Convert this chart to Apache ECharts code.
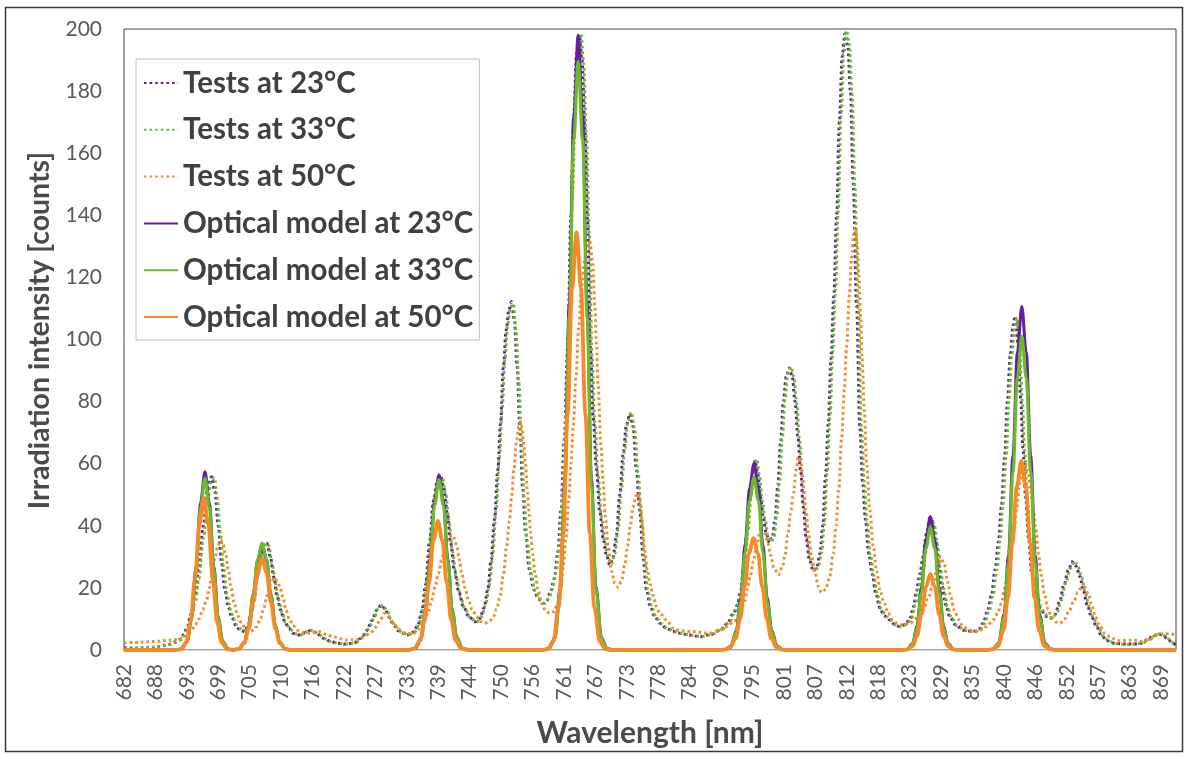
<!DOCTYPE html>
<html>
<head>
<meta charset="utf-8">
<script src="https://cdn.jsdelivr.net/npm/echarts@6/dist/echarts.min.js"></script>
<style>
  html, body { margin: 0; padding: 0; background: #ffffff; }
  #chart { width: 1186px; height: 759px; }
</style>
</head>
<body>
<div id="chart"></div>
<script>
// Wavelength tick labels shown under the x axis (evenly spaced)
const tickLabels = [682, 688, 693, 699, 705, 710, 716, 722, 727, 733, 739, 744, 750, 756, 761, 767,
  773, 778, 784, 790, 795, 801, 807, 812, 818, 823, 829, 835, 840, 846, 852, 857, 863, 869];

const seriesNames = ['Tests at 23°C', 'Tests at 33°C', 'Tests at 50°C',
  'Optical model at 23°C', 'Optical model at 33°C', 'Optical model at 50°C'];

// Measured spectra: [wavelength nm, counts]
const test23 = [[682,0.8],[684,0.6],[686.5,0.7],[688.5,1.1],[690,1.8],[691.2,2.6],[692.1,3.4],[692.8,5],[693.4,7.5],[694.1,11.5],[694.8,17],[695.5,26],[696.3,40],[697.1,52.5],[697.8,55.8],[698.4,51],[699,40],[699.6,28],[700.2,19.3],[700.8,14],[701.4,10.7],[702.2,7.8],[702.9,6.4],[703.8,5.9],[704.4,8.2],[705,12.5],[705.9,22.5],[706.6,29.5],[707.3,33.6],[707.8,34.3],[708.4,30],[709,23.5],[709.6,17.5],[710.2,13],[710.9,9.5],[711.7,7],[712.6,5.3],[713.7,4.8],[714.7,5.6],[715.7,6.3],[716.6,5.6],[717.9,3.8],[719.2,2.8],[720.5,2.2],[722,1.9],[723.5,2.3],[724.8,3.8],[725.8,6.3],[726.7,9.5],[727.6,12.9],[728.4,14.5],[729.1,13.2],[729.8,10.6],[730.6,8],[731.5,6.2],[733,4.8],[734.2,5.8],[735,8],[735.7,12.5],[736.4,21],[737.1,35],[737.8,48],[738.5,54.5],[739.1,55.8],[739.7,52],[740.3,44],[740.9,34.5],[741.6,25.5],[742.4,18.5],[743.2,14],[744.2,10.7],[745.3,9.1],[746.2,10.2],[746.9,13.5],[747.6,19.5],[748.2,29],[748.8,42],[749.4,58],[749.9,73],[750.4,91],[750.9,103],[751.4,109.5],[751.9,112.2],[752.4,106],[752.9,91],[753.4,71],[753.9,52],[754.4,38],[755.1,26],[755.9,19.5],[756.7,16.5],[757.6,15],[758.3,16],[758.9,18.5],[759.6,23],[760.2,31],[760.8,45],[761.4,68],[762,97.7],[762.6,140],[763.1,172],[763.6,192],[764.1,198],[764.6,190],[765.1,168],[765.6,138],[766.1,97],[766.6,75],[767.2,58.3],[767.8,44.5],[768.4,36],[769,30.5],[769.6,27.4],[770.2,30],[770.8,37],[771.4,50],[772,63],[772.6,72.5],[773.2,76],[773.8,72],[774.4,58],[775,45],[775.6,30],[776.2,19.5],[776.9,14],[777.7,10.8],[778.6,8.6],[779.8,7],[781,6],[782.3,5.4],[784,4.8],[785.9,4.3],[787.8,5],[789.5,6.4],[790.8,8.5],[791.9,11.8],[792.6,14.5],[793.2,19],[793.7,26],[794.2,36],[794.8,48.5],[795.3,57],[795.8,61],[796.3,56.5],[796.8,49],[797.3,42.5],[797.8,37.5],[798.4,34.5],[798.9,36],[799.4,42],[799.9,53],[800.4,67],[800.9,80],[801.4,88],[802,90.8],[802.5,88],[803,80],[803.5,69],[804,58],[804.5,46],[805,36],[805.6,29],[806.3,25.5],[806.9,26.5],[807.5,31],[808,40],[808.5,56],[809,73],[809.5,94],[810,114],[810.5,140],[811,170],[811.5,191],[812,198.5],[812.5,195],[813,180],[813.5,150.4],[814.1,111],[814.7,71.5],[815.2,54],[815.7,42],[816.3,31],[816.9,24.5],[817.6,18],[818.3,13.5],[819.1,11],[820,9.7],[821,8.2],[821.9,7.5],[822.9,8.2],[823.7,10],[824.4,14],[824.9,19],[825.5,24.5],[826.1,30],[826.7,37.5],[827.3,42.5],[827.8,41.5],[828.4,35],[828.9,27.5],[829.5,20.5],[830.2,14.5],[830.9,10.7],[832,8],[833.3,6.4],[835.1,5.9],[836.2,6.8],[836.9,8.6],[837.7,12.5],[838.4,17.5],[839.1,26],[839.7,35],[840.2,46],[840.8,62],[841.3,80],[841.8,94.5],[842.3,104],[842.7,107.5],[843.2,99],[843.7,81],[844.1,65],[844.6,49],[845.1,36],[845.7,25],[846.4,17.5],[847.3,13],[848.3,10.8],[849.1,10.2],[849.9,11.5],[850.7,15.5],[851.5,21],[852.3,25.8],[853,28.4],[853.7,27],[854.4,23.6],[855,19],[855.7,14.5],[856.5,10.5],[857.4,7.5],[858.3,4.5],[859.3,3],[860.5,2.2],[862.2,1.9],[864,1.9],[865.4,2.2],[866.6,3.3],[867.6,4.5],[868.5,5.2],[869.3,4.8],[870.2,3.6],[871,2.3],[871.7,1.5]];

const test33 = [[682,0.6],[684,0.6],[686.5,0.8],[688.5,1.2],[690,1.7],[691.2,2.4],[692.1,3.2],[692.8,4.5],[693.4,6.5],[694.1,10],[694.8,15],[695.5,23],[696.3,36],[697.1,49],[697.8,54.5],[698.3,55.5],[698.8,49],[699.4,37],[700,26],[700.6,18],[701.2,13],[701.8,9.8],[702.6,7.3],[703.4,6.2],[704.1,6.5],[704.8,10],[705.4,15],[706.2,24.5],[706.9,31],[707.6,34.4],[708.1,33.5],[708.7,28],[709.3,21.5],[709.9,16],[710.5,12],[711.2,8.8],[712,6.5],[712.9,5.2],[714,4.9],[715,5.9],[716,6.4],[716.9,5.4],[718.2,3.6],[719.5,2.6],[720.8,2.1],[722.3,1.9],[723.8,2.4],[725.1,4],[726.1,6.8],[727,10],[727.9,13.3],[728.7,14.4],[729.4,12.8],[730.1,10],[730.9,7.6],[731.8,6],[733.3,4.9],[734.5,6],[735.3,8.8],[736,14],[736.7,23.5],[737.4,38],[738.1,50],[738.8,55],[739.4,55.6],[740,50.5],[740.6,41.5],[741.2,32],[741.9,23.5],[742.7,17],[743.5,13],[744.5,10.2],[745.6,9.1],[746.5,10.8],[747.2,14.5],[747.9,21],[748.5,31],[749.1,45],[749.7,62],[750.2,78],[750.7,94],[751.2,105],[751.7,110.5],[752.2,111.5],[752.7,103],[753.2,86],[753.7,66],[754.2,48],[754.7,35],[755.4,24.5],[756.2,18.5],[757,16],[757.9,15],[758.6,16.5],[759.2,19.5],[759.9,25],[760.5,34],[761.1,50],[761.7,76],[762.3,108],[762.9,148],[763.4,178],[763.9,194],[764.4,198.5],[764.9,189],[765.4,165],[765.9,134],[766.4,95],[766.9,73],[767.5,56],[768.1,43],[768.7,35],[769.3,29.5],[769.9,27.6],[770.5,31],[771.1,39],[771.7,52],[772.3,65],[772.9,74],[773.5,76.5],[774.1,71],[774.7,57],[775.3,43],[775.9,28.5],[776.5,18.5],[777.2,13.5],[778,10.4],[778.9,8.4],[780.1,6.8],[781.3,5.9],[782.6,5.3],[784.3,4.7],[786.2,4.3],[788.1,5.1],[789.8,6.6],[791.1,8.8],[792.2,12.2],[792.9,15.5],[793.5,20.5],[794,28],[794.5,38],[795.1,50],[795.6,58.5],[796.1,61.5],[796.6,56],[797.1,48],[797.6,42],[798.1,37],[798.7,34.8],[799.2,36.5],[799.7,43],[800.2,54],[800.7,68],[801.2,81],[801.7,89],[802.3,91.2],[802.8,88],[803.3,79.5],[803.8,68],[804.3,57],[804.8,45],[805.3,35],[805.9,28.5],[806.6,25.3],[807.2,26.8],[807.8,31.5],[808.3,41],[808.8,57],[809.3,75],[809.8,96],[810.3,116],[810.8,142],[811.3,172],[811.8,192],[812.3,199.5],[812.8,195],[813.3,179],[813.8,149],[814.4,110],[815,71],[815.5,53.5],[816,41.5],[816.6,30.5],[817.2,24],[817.9,17.5],[818.6,13.2],[819.4,10.8],[820.3,9.5],[821.3,8],[822.2,7.4],[823.2,8.3],[824,10.3],[824.7,14.5],[825.2,19.5],[825.8,25],[826.4,30.5],[827,37],[827.6,41.5],[828.1,40.5],[828.7,34],[829.2,26.5],[829.8,19.8],[830.5,14],[831.2,10.4],[832.3,7.8],[833.6,6.3],[835.4,5.8],[836.5,6.8],[837.2,8.6],[838,12.5],[838.7,17.5],[839.4,26],[840,35.5],[840.5,47],[841.1,63],[841.6,81],[842.1,95],[842.6,104],[843,107],[843.5,98],[844,80],[844.4,64],[844.9,48],[845.4,35.5],[846,24.5],[846.7,17],[847.6,12.8],[848.6,10.7],[849.4,10.3],[850.2,11.8],[851,16],[851.8,21.5],[852.6,26.2],[853.3,28.6],[854,27],[854.7,23.4],[855.3,18.8],[856,14.2],[856.8,10.2],[857.7,7.2],[858.6,4.4],[859.6,2.9],[860.8,2.1],[862.5,1.8],[864.3,1.9],[865.7,2.3],[866.9,3.4],[867.9,4.6],[868.8,5.2],[869.6,4.7],[870.5,3.4],[871.3,2.1],[871.7,1.6]];

const test50 = [[682,2.3],[684,2.4],[686,2.6],[688,2.8],[690,3.1],[691.5,3.4],[692.7,3.8],[693.4,4.6],[694.1,6],[694.8,8],[695.5,10],[696.2,13],[696.9,16.1],[697.4,20],[697.9,25],[698.4,30],[698.9,33.6],[699.4,35.4],[699.8,34.6],[700.3,31],[700.8,26],[701.3,20],[701.9,14.8],[702.5,11],[703.2,8.6],[704,6.7],[704.7,5.9],[705.4,6.4],[705.9,7.5],[706.6,10.2],[707.2,13.5],[707.8,17.5],[708.4,21],[709.1,23.1],[709.7,22.2],[710.2,19.8],[710.7,16.5],[711.2,13],[711.8,10],[712.5,7.8],[713.4,6.3],[714.5,5.5],[715.5,5.4],[716.5,5.7],[717.3,5.9],[718.5,5],[719.7,4.3],[721,3.6],[722.2,3.2],[724,3.4],[725.3,4.3],[726.4,5.4],[727.3,7.2],[728.2,9.7],[729,11.8],[729.8,10.8],[730.6,8.6],[731.5,6.8],[732.4,5.6],[733.4,5.2],[734.2,5.4],[735.1,6.6],[736,8.6],[736.8,11.8],[737.5,16.1],[738.1,20.5],[738.7,24.7],[739.3,29],[739.9,33.3],[740.5,36.2],[741.1,37],[741.6,35.8],[742,33.3],[742.5,29],[742.9,24.7],[743.5,20],[744.1,16.1],[744.8,13],[745.6,10.7],[746.3,9.2],[747.1,8.6],[747.9,9.3],[748.6,10.7],[749.2,13.2],[749.8,17.2],[750.4,24],[751,33.3],[751.5,41.5],[751.9,49.4],[752.3,58],[752.8,67.6],[753.2,72],[753.5,73.5],[753.8,71.5],[754.1,66],[754.4,60],[754.7,52],[755,45],[755.3,38],[755.7,31],[756.1,24.7],[756.7,19],[757.3,15],[758,12.8],[758.8,11.8],[759.5,12.3],[760.1,14.5],[760.7,19],[761.2,27],[761.7,36],[762.2,48],[762.6,60],[763,71.5],[763.5,88],[764,104],[764.5,117],[765,125],[765.5,129.5],[766,131.5],[766.5,125],[766.9,111],[767.2,98],[767.5,85],[768,66],[768.4,54],[768.8,43],[769.3,33.5],[769.9,25.4],[770.5,21.5],[771.1,20.2],[771.7,22],[772.3,27.5],[772.8,33.5],[773.3,40],[773.8,46],[774.3,49.5],[774.7,50.4],[775.1,47.5],[775.5,40],[775.9,32],[776.4,25.5],[776.9,21],[777.4,17.5],[778,14],[778.6,11.8],[779.8,9.7],[781,7],[782.3,6.2],[784.6,5.9],[787.6,5.4],[789.2,6.2],[790.7,7.5],[792,9.3],[793.1,11.8],[793.8,15],[794.4,19.5],[794.9,23.6],[795.5,28.5],[796.1,33.3],[796.6,37.5],[797.1,38.6],[797.6,37.5],[798.1,34.5],[798.6,30.5],[799.2,26.5],[800,24.2],[800.7,26.5],[801.2,30.5],[801.7,37],[802.2,44],[802.7,50.5],[803.2,58],[803.6,62.3],[804,60],[804.5,52.6],[805,45],[805.4,37.6],[806,30],[806.6,24.7],[807.2,20.5],[807.8,18.5],[808.5,19.5],[809.2,23],[809.9,31],[810.4,40],[810.9,52],[811.4,68],[811.9,84],[812.3,97.7],[812.8,114],[813.2,126.6],[813.6,134],[813.9,136],[814.2,131],[814.5,121],[814.8,108],[815.1,94],[815.5,77],[815.9,60],[816.5,45],[817.1,33.5],[817.7,25.4],[818.4,18.5],[819.1,15],[819.8,11.8],[820.6,9.8],[821.5,8.5],[822.5,8],[823.7,8.6],[825,10.3],[826.1,12.9],[827,16.5],[827.9,21.5],[828.7,27],[829.3,30],[829.9,27.5],[830.5,22],[831.1,17],[831.7,12.8],[832.5,9.8],[833.3,7.5],[834.5,6.4],[835.7,5.9],[836.6,6.5],[837.5,7.5],[838.8,9.8],[839.6,12],[840.2,15],[840.8,20],[841.4,25.5],[841.9,31],[842.5,38.5],[843,46],[843.5,53.5],[844,58.5],[844.5,60],[845,57.5],[845.5,51],[846,45],[846.4,39],[846.9,31],[847.4,24],[848,18],[848.6,13.3],[849.3,10.5],[850.1,9],[850.8,8.6],[851.6,10],[852.4,12.5],[853.3,15.8],[854,18.5],[854.7,20.2],[855.3,20.2],[855.9,18],[856.5,14.5],[857.2,10.5],[858,7.5],[858.9,5.3],[859.8,4.3],[860.7,3.5],[861.6,3],[862.8,3.1],[864,3.2],[865.8,2.7],[867,3.5],[868.2,4.8],[869.4,5.2],[870.6,5.2],[871.7,4.9]];

// Optical model: [wavelength nm, counts]
const model23 = [[682,0],[691.4,0],[692.4,0.3],[693.4,2.8],[694.2,10.4],[695,26.9],[695.8,47.5],[696.6,57.4],[697.4,47.5],[698.2,26.9],[699,10.4],[699.8,2.8],[700.8,0.3],[701.7,0],[702.7,0.4],[703.7,2.5],[704.5,7.9],[705.3,17.8],[706.1,29],[706.9,34.2],[707.7,29],[708.5,17.8],[709.3,7.9],[710.1,2.5],[711.1,0.4],[712.2,0],[733.4,0],[734.6,0.6],[735.6,4.1],[736.4,13],[737.2,29.3],[738,47.9],[738.8,56.4],[739.6,47.9],[740.4,29.3],[741.2,13],[742,4.1],[743,0.6],[744.2,0],[757.6,0],[758.7,0.5],[759.7,4],[760.7,20.4],[761.5,55],[762.3,112.1],[763.1,171.7],[763.9,198],[764.7,171.7],[765.5,112.1],[766.3,55],[767.1,20.4],[768.1,4],[769.1,0.5],[770.2,0],[789.3,0],[790.4,0.2],[791.4,1.2],[792.4,6.2],[793.2,16.7],[794,34],[794.8,52.1],[795.6,60.1],[796.4,52.1],[797.2,34],[798,16.7],[798.8,6.2],[799.8,1.2],[800.8,0.2],[801.8,0],[822.1,0],[823.2,0.2],[824.2,2.1],[825,7.8],[825.8,20.1],[826.6,35.5],[827.4,42.9],[828.2,35.5],[829,20.1],[829.8,7.8],[830.6,2.1],[831.6,0.2],[832.6,0],[837.7,0],[838.7,0.3],[839.7,2.2],[840.7,11.4],[841.5,30.7],[842.3,62.6],[843.1,95.9],[843.9,110.6],[844.7,95.9],[845.5,62.6],[846.3,30.7],[847.1,11.4],[848.1,2.2],[849.1,0.3],[850.1,0],[871.7,0]];

const model33 = [[682,0],[691.4,0],[692.4,0.3],[693.4,2.7],[694.2,10.1],[695,26],[695.8,45.8],[696.6,55.4],[697.4,45.8],[698.2,26],[699,10.1],[699.8,2.7],[700.8,0.3],[701.7,0],[702.7,0.4],[703.7,2.5],[704.5,7.9],[705.3,17.9],[706.1,29.2],[706.9,34.4],[707.7,29.2],[708.5,17.9],[709.3,7.9],[710.1,2.5],[711.1,0.4],[712.2,0],[733.4,0],[734.6,0.6],[735.6,4],[736.4,12.6],[737.2,28.5],[738,46.5],[738.8,54.8],[739.6,46.5],[740.4,28.5],[741.2,12.6],[742,4],[743,0.6],[744.2,0],[757.6,0],[758.7,0.5],[759.7,3.8],[760.7,19.5],[761.5,52.7],[762.3,107.3],[763.1,164.3],[763.9,189.5],[764.7,164.3],[765.5,107.3],[766.3,52.7],[767.1,19.5],[768.1,3.8],[769.1,0.5],[770.2,0],[789.3,0],[790.4,0.1],[791.4,1.1],[792.4,5.7],[793.2,15.4],[794,31.4],[794.8,48.1],[795.6,55.5],[796.4,48.1],[797.2,31.4],[798,15.4],[798.8,5.7],[799.8,1.1],[800.8,0.1],[801.8,0],[822.1,0],[823.2,0.2],[824.2,1.9],[825,7.2],[825.8,18.5],[826.6,32.7],[827.4,39.5],[828.2,32.7],[829,18.5],[829.8,7.2],[830.6,1.9],[831.6,0.2],[832.6,0],[837.7,0],[838.7,0.3],[839.7,2],[840.7,10.4],[841.5,28.1],[842.3,57.2],[843.1,87.6],[843.9,101],[844.7,87.6],[845.5,57.2],[846.3,28.1],[847.1,10.4],[848.1,2],[849.1,0.3],[850.1,0],[871.7,0]];

const model50 = [[682,0],[691.2,0],[692.2,0.2],[693.2,2.4],[694,8.9],[694.8,23],[695.6,40.5],[696.4,49],[697.2,40.5],[698,23],[698.8,8.9],[699.6,2.4],[700.6,0.2],[701.7,0],[702.7,0.3],[703.7,2.2],[704.5,6.8],[705.3,15.3],[706.1,25],[706.9,29.5],[707.7,25],[708.5,15.3],[709.3,6.8],[710.1,2.2],[711.1,0.3],[712.2,0],[733.2,0],[734.4,0.5],[735.4,3],[736.2,9.6],[737,21.6],[737.8,35.3],[738.6,41.6],[739.4,35.3],[740.2,21.6],[741,9.6],[741.8,3],[742.8,0.5],[744,0],[757.3,0],[758.4,0.3],[759.4,2.7],[760.4,13.9],[761.2,37.4],[762,76.1],[762.8,116.6],[763.6,134.5],[764.4,116.6],[765.2,76.1],[766,37.4],[766.8,13.9],[767.8,2.7],[768.8,0.3],[769.9,0],[789.2,0],[790.3,0.1],[791.3,0.7],[792.3,3.7],[793.1,10],[793.9,20.4],[794.7,31.2],[795.5,36],[796.3,31.2],[797.1,20.4],[797.9,10],[798.7,3.7],[799.7,0.7],[800.7,0.1],[801.7,0],[822.1,0],[823.2,0.1],[824.2,1.2],[825,4.5],[825.8,11.5],[826.6,20.3],[827.4,24.5],[828.2,20.3],[829,11.5],[829.8,4.5],[830.6,1.2],[831.6,0.1],[832.6,0],[837.6,0],[838.6,0.2],[839.6,1.2],[840.6,6.3],[841.4,16.9],[842.2,34.4],[843,52.7],[843.8,60.8],[844.6,52.7],[845.4,34.4],[846.2,16.9],[847,6.3],[848,1.2],[849,0.2],[850,0],[871.7,0]];

const FONT = 'Lato, "Open Sans", "DejaVu Sans", sans-serif';
const PURPLE = '#62209A';
const GREEN = '#6BBA2C';
const ORANGE = '#F7892A';

const xMin = tickLabels[0];
const xMax = 871.7;
const tickStep = (tickLabels[tickLabels.length - 1] - tickLabels[0]) / (tickLabels.length - 1);
const tickPositions = tickLabels.map((_, i) => xMin + i * tickStep);

function lineSeries(name, data, color, width, dotted) {
  return {
    name: name,
    type: 'line',
    data: data,
    smooth: 0.35,
    smoothMonotone: 'x',
    symbol: 'none',
    clip: true,
    lineStyle: { color: color, width: width, type: dotted ? [2.6, 3] : 'solid', cap: 'butt' },
    itemStyle: { color: color },
    emphasis: { disabled: true }
  };
}

const chart = echarts.init(document.getElementById('chart'), null, { renderer: 'canvas' });

chart.setOption({
  animation: false,
  backgroundColor: '#ffffff',
  grid: {
    left: 124, top: 29, right: 10, bottom: 109,
    show: true, borderColor: '#404040', borderWidth: 1, backgroundColor: '#ffffff'
  },
  graphic: [{
    type: 'rect',
    shape: { x: 5.5, y: 7.5, width: 1177, height: 744 },
    style: { fill: null, stroke: '#3a3a3a', lineWidth: 1.5 },
    silent: true, z: -1
  }],
  legend: {
    orient: 'vertical',
    left: 136, top: 59,
    padding: [9, 6, 8, 7],
    itemWidth: 34, itemHeight: 14, itemGap: 16.8,
    borderColor: '#bfbfbf', borderWidth: 1,
    backgroundColor: '#ffffff',
    selectedMode: false,
    itemStyle: { opacity: 0 },
    textStyle: { fontFamily: FONT, fontSize: 29.5, fontWeight: 'bold', color: '#404040', lineHeight: 30 },
    data: seriesNames
  },
  xAxis: {
    type: 'value',
    min: xMin, max: xMax,
    name: 'Wavelength [nm]',
    nameLocation: 'middle',
    nameGap: 68,
    nameTextStyle: { fontFamily: FONT, fontSize: 30, fontWeight: 'bold', color: '#4a4a4a' },
    axisLine: { show: true, lineStyle: { color: '#d9d9d9', width: 1 } },
    axisTick: { show: false },
    splitLine: { show: false },
    axisLabel: {
      customValues: tickPositions,
      rotate: 90,
      margin: 14,
      fontFamily: FONT, fontSize: 21, color: '#595959',
      formatter: function (v) {
        const i = Math.round((v - xMin) / tickStep);
        return String(tickLabels[i]);
      }
    }
  },
  yAxis: {
    type: 'value',
    min: 0, max: 200, interval: 20,
    name: 'Irradiation intensity [counts]',
    nameLocation: 'middle',
    nameGap: 61,
    nameRotate: 90,
    nameTextStyle: { fontFamily: FONT, fontSize: 28.5, fontWeight: 'bold', color: '#4a4a4a', padding: [0, 0, 0, 18] },
    axisLine: { show: false },
    axisTick: { show: false },
    splitLine: { show: false },
    axisLabel: { margin: 22, fontFamily: FONT, fontSize: 21, color: '#595959' }
  },
  series: [
    lineSeries(seriesNames[0], test23, PURPLE, 3, true),
    lineSeries(seriesNames[1], test33, GREEN, 3, true),
    lineSeries(seriesNames[2], test50, ORANGE, 3, true),
    lineSeries(seriesNames[3], model23, PURPLE, 3, false),
    lineSeries(seriesNames[4], model33, GREEN, 3.2, false),
    lineSeries(seriesNames[5], model50, ORANGE, 3.8, false)
  ]
});
</script>
</body>
</html>
